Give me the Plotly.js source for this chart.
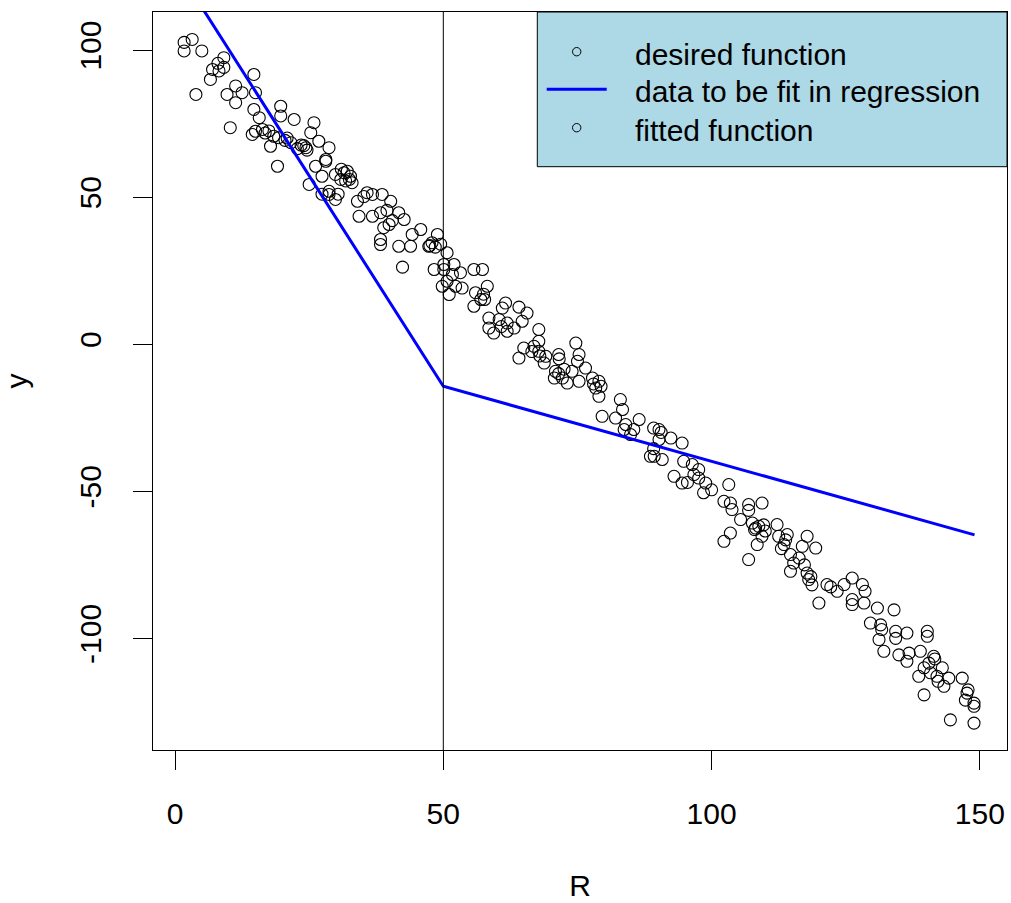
<!DOCTYPE html>
<html>
<head>
<meta charset="utf-8">
<script src="https://cdn.plot.ly/plotly-3.0.1.min.js"></script>
<style>
  html, body { margin: 0; padding: 0; background: #ffffff; }
  #chart { width: 1011px; height: 903px; }
</style>
</head>
<body>
<div id="chart"></div>
<script>
// ---- data ----
const desiredR = [
  1.7, 3.2, 1.7, 5.0, 9.1, 7.0, 8.2, 6.6, 9.1, 8.0, 3.9, 11.3, 9.7, 12.5, 11.3, 14.7, 15.0, 14.7, 10.3, 19.7,
  19.7, 22.2, 15.0, 16.3, 16.8, 17.5, 18.4, 19.3, 20.5, 17.8, 20.9, 21.6, 19.1, 25.9, 25.3, 26.8, 24.4, 24.6, 24.0, 22.8,
  23.5, 28.7, 26.2, 28.1, 25.0, 29.9, 28.7, 27.4, 30.4, 15.7, 14.4,
  28.1, 27.4, 31.5, 30.9, 32.7, 33.0, 32.1, 31.0, 32.5, 31.8, 28.7, 29.9, 34.0, 35.8, 35.2, 36.8, 38.6, 40.2, 34.3, 36.8,
  38.3, 39.9, 38.9, 39.5, 40.5, 41.7, 42.7, 38.3, 38.3, 41.7, 44.2, 45.8, 43.9, 47.3, 47.5, 47.9, 48.5, 48.9, 42.4, 50.7,
  49.5, 48.3, 50.1, 51.7, 53.2, 49.8, 52.3, 51.1, 55.7, 56.0, 55.7,
  50.1, 52.0, 50.7, 53.5, 57.3, 58.2, 57.0, 57.7, 57.5, 61.6, 61.0, 64.1, 65.6, 58.5, 58.5, 60.4, 61.9, 63.2, 64.7, 59.4,
  61.9, 60.8, 67.8, 65.0, 64.1, 66.9, 67.8, 69.1, 68.8, 67.8, 66.5, 68.0, 71.5, 71.6, 70.9, 72.2, 70.7, 71.5, 72.5, 74.7,
  75.3, 75.0, 76.5, 74.0, 75.3, 73.1, 77.8, 79.0, 78.4, 79.4, 79.0, 78.0,
  83.0, 83.4, 79.6, 82.1, 84.0, 86.5, 83.7, 85.5, 84.9, 89.2, 90.2, 90.6, 90.2, 92.4, 94.5, 88.6, 89.3, 90.8, 89.2, 94.8,
  96.4, 97.6, 96.7, 93.0, 94.5, 95.5, 98.9, 103.2, 97.6, 98.5, 100.0,
  102.3, 103.5, 103.8, 106.9, 109.4, 106.9, 105.4, 107.6, 108.8, 109.7, 108.0, 108.2, 110.0, 109.4, 103.5, 102.3, 108.5, 106.9, 112.2, 112.5,
  114.1, 113.5, 113.0, 113.8, 114.7, 117.8, 116.9, 119.4, 116.3, 115.3, 114.7, 117.3, 117.8, 118.1, 118.5, 118.7, 120.0, 121.5, 122.2, 123.4,
  124.7, 126.2, 128.1, 126.2, 126.2, 128.6,
  128.4, 130.9, 134.0, 129.6, 131.5, 131.7, 131.2, 134.3, 136.4, 134.3, 140.2, 140.2, 132.1, 134.9, 136.8, 138.9, 136.4, 141.4, 141.6, 140.5,
  139.6, 143.0, 138.6, 140.8, 142.0, 144.2, 146.7, 142.2, 143.3, 139.6, 147.6, 147.8, 148.9, 148.9, 144.5, 148.9, 147.3
];
const desiredY = [
  102.6, 103.6, 99.7, 99.7, 97.4, 93.4, 92.9, 90.0, 94.1, 95.5, 84.9, 87.8, 84.9, 85.5, 82.1, 91.7, 85.5, 79.8, 73.6, 80.9,
  77.6, 76.4, 72.4, 73.0, 71.8, 72.5, 70.7, 70.2, 69.3, 67.3, 70.1, 68.5, 60.5, 75.3, 71.9, 69.0, 66.8, 66.0, 67.5, 66.5,
  67.7, 66.8, 60.5, 62.2, 54.3, 57.7, 52.0, 51.0, 51.0, 77.0, 71.3,
  62.8, 57.1, 58.3, 56.0, 57.1, 54.9, 58.8, 59.5, 56.0, 55.5, 50.9, 49.2, 48.6, 51.5, 50.2, 50.9, 50.9, 48.6, 43.5, 43.5,
  44.7, 40.7, 39.6, 45.5, 42.0, 44.7, 42.4, 35.6, 33.9, 33.3, 37.3, 39.0, 33.3, 33.3, 33.5, 34.5, 33.0, 37.3, 26.2, 31.1,
  34.0, 25.4, 25.4, 23.7, 24.3, 19.7, 19.7, 16.9, 25.4, 17.5, 12.9,
  27.1, 27.1, 21.4, 19.1, 25.4, 19.7, 15.2, 15.2, 17.0, 14.0, 12.3, 12.6, 10.6, 8.9, 5.5, 8.4, 7.2, 5.5, 7.8, 3.8,
  4.4, 6.0, 5.0, -1.3, -4.7, -0.7, -2.4, -4.1, -6.4, 1.0, -2.5, -4.0, -3.5, -5.0, -9.2, -11.5, -11.5, -10.0, -8.5, 0.4,
  -3.5, -5.8, -8.1, -9.2, -12.6, -13.2, -11.5, -12.6, -14.9, -14.3, -17.7, -13.5,
  -18.8, -22.2, -24.5, -25.1, -27.3, -25.6, -29.0, -29.0, -30.7, -28.5, -29.0, -30.0, -32.4, -31.9, -33.6, -38.1, -38.1, -39.2, -35.5, -39.8,
  -40.9, -42.6, -44.3, -44.9, -47.2, -47.0, -47.2, -47.7, -45.5, -50.5, -49.5,
  -53.4, -54.0, -56.2, -54.5, -54.0, -56.5, -59.6, -60.8, -61.9, -61.4, -63.0, -62.5, -63.5, -65.3, -64.2, -67.0, -68.1, -73.2, -61.3, -65.3,
  -64.7, -68.1, -69.5, -66.5, -71.5, -65.3, -68.7, -69.3, -72.7, -74.4, -77.2, -75.0, -77.8, -80.0, -79.0, -81.8, -88.0, -81.7, -82.5, -84.0,
  -81.7, -79.5, -81.7, -86.8, -88.5, -84.0,
  -88.0, -89.7, -90.3, -94.8, -95.4, -97.0, -100.4, -97.6, -98.2, -100.0, -97.6, -99.3, -104.4, -105.6, -105.0, -104.4, -107.8, -106.1, -107.0, -108.4,
  -110.0, -110.0, -112.9, -111.7, -112.9, -113.5, -113.5, -114.6, -116.3, -119.2, -118.6, -117.5, -123.1, -122.0, -127.7, -128.8, -121.0
];
const regressionR = [1.7, 50, 149];
const regressionY = [124.0, -14.3, -64.8];
const breakpointR = 50;

const xTicks = [0, 50, 100, 150];
const xTickLabels = ['0', '50', '100', '150'];
const yTicks = [-100, -50, 0, 50, 100];
const yTickLabels = ['-100', '-50', '0', '50', '100'];

const legendLabels = ['desired function', 'data to be fit in regression', 'fitted function'];

// ---- drawing ----
const FONT = 'Liberation Sans, Arial, sans-serif';
const L = 153, R = 4, T = 12, B = 153, W = 1011, H = 903;
const pw = W - L - R, ph = H - T - B;
const px = v => (v - L) / pw;          // pixel -> paper x
const py = v => (H - B - v) / ph;      // pixel -> paper y

const traces = [
  {
    x: desiredR, y: desiredY, type: 'scatter', mode: 'markers',
    name: legendLabels[0], showlegend: false,
    marker: { symbol: 'circle-open', size: 12, color: '#000000', line: { width: 1.1, color: '#000000' } },
    hoverinfo: 'x+y'
  },
  {
    x: regressionR, y: regressionY, type: 'scatter', mode: 'lines',
    name: legendLabels[1], showlegend: false,
    line: { color: '#0000FF', width: 3 }
  }
];

const shapes = [
  { type: 'line', xref: 'x', yref: 'paper', x0: breakpointR, x1: breakpointR, y0: 0, y1: 1,
    line: { color: '#000000', width: 1 }, layer: 'above' },
  // legend box
  { type: 'rect', xref: 'paper', yref: 'paper', x0: px(537.3), x1: 1, y0: py(166.7), y1: 1,
    fillcolor: '#ADD8E6', line: { color: '#000000', width: 1 }, layer: 'above' },
  // legend symbol 1 (circle)
  { type: 'circle', xref: 'paper', yref: 'paper', xsizemode: 'pixel', ysizemode: 'pixel',
    xanchor: px(576.7), yanchor: py(51.7), x0: -4.2, x1: 4.2, y0: -4.2, y1: 4.2,
    line: { color: '#000000', width: 1 }, layer: 'above' },
  // legend symbol 2 (blue line)
  { type: 'line', xref: 'paper', yref: 'paper', x0: px(546.7), x1: px(606.7), y0: py(89.3), y1: py(89.3),
    line: { color: '#0000FF', width: 3 }, layer: 'above' },
  // legend symbol 3 (circle)
  { type: 'circle', xref: 'paper', yref: 'paper', xsizemode: 'pixel', ysizemode: 'pixel',
    xanchor: px(576.7), yanchor: py(127.7), x0: -4.2, x1: 4.2, y0: -4.2, y1: 4.2,
    line: { color: '#000000', width: 1 }, layer: 'above' }
];

const legendCenters = [54.3, 91.7, 130.0];
const annotations = legendLabels.map((t, i) => ({
  text: t, xref: 'paper', yref: 'paper', x: px(632.7), y: py(legendCenters[i]),
  xanchor: 'left', yanchor: 'middle', showarrow: false,
  font: { family: FONT, size: 30, color: '#000000' }
}));

const axisCommon = {
  showgrid: false, zeroline: false,
  showline: true, mirror: true, linecolor: '#000000', linewidth: 1,
  ticks: 'outside', ticklen: 19, tickwidth: 1, tickcolor: '#000000',
  tickfont: { family: FONT, size: 30, color: '#000000' },
  tickmode: 'array', fixedrange: true
};

const layout = {
  width: W, height: H,
  margin: { l: L, r: R, t: T, b: B, pad: 0 },
  paper_bgcolor: '#ffffff', plot_bgcolor: '#ffffff',
  showlegend: false,
  xaxis: Object.assign({}, axisCommon, {
    range: [-4.10, 155.05], tickvals: xTicks, ticktext: xTickLabels,
    ticklabelstandoff: 18,
    title: { text: 'R', font: { family: FONT, size: 30, color: '#000000' }, standoff: 45 }
  }),
  yaxis: Object.assign({}, axisCommon, {
    range: [-137.95, 112.94], tickvals: yTicks, ticktext: yTickLabels,
    tickangle: -90, ticklabelstandoff: 20,
    title: { text: 'y', font: { family: FONT, size: 30, color: '#000000' }, standoff: 38 }
  }),
  shapes: shapes,
  annotations: annotations
};

Plotly.newPlot('chart', traces, layout, { staticPlot: true, displayModeBar: false });
</script>
</body>
</html>
